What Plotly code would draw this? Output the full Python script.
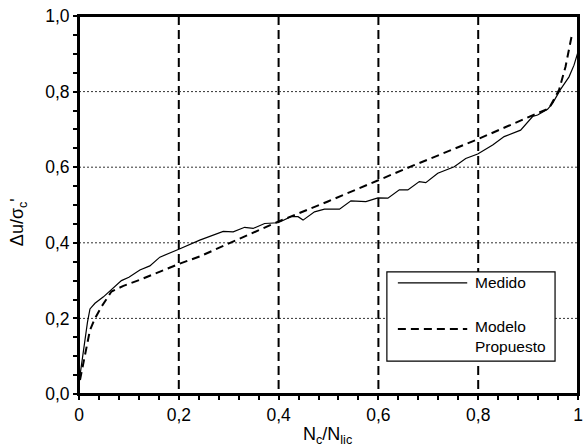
import plotly.graph_objects as go

# Measured curve (Medido)
med_x = [0.0, 0.004, 0.008, 0.012, 0.017, 0.022, 0.032, 0.049, 0.065, 0.085, 0.100, 0.122,
         0.142, 0.162, 0.200, 0.242, 0.289, 0.309, 0.332, 0.349, 0.372, 0.399, 0.425,
         0.439, 0.449, 0.472, 0.492, 0.522, 0.545, 0.575, 0.599, 0.619, 0.642, 0.659,
         0.682, 0.695, 0.719, 0.752, 0.775, 0.799, 0.829, 0.852, 0.885, 0.909, 0.919,
         0.939, 0.949, 0.965, 0.982, 0.992, 1.0]
med_y = [0.03, 0.07, 0.11, 0.15, 0.19, 0.225, 0.240, 0.257, 0.275, 0.300, 0.309, 0.328,
         0.339, 0.362, 0.383, 0.407, 0.430, 0.429, 0.441, 0.438, 0.451, 0.453, 0.469,
         0.469, 0.460, 0.482, 0.489, 0.489, 0.511, 0.509, 0.519, 0.518, 0.540, 0.540,
         0.562, 0.559, 0.584, 0.601, 0.623, 0.635, 0.659, 0.681, 0.698, 0.734, 0.738,
         0.753, 0.769, 0.806, 0.839, 0.870, 0.905]

# Proposed model (Modelo Propuesto)
mod_x = [0.002, 0.009, 0.022, 0.032, 0.045, 0.065, 0.089, 0.122, 0.162, 0.200, 0.242,
         0.322, 0.399, 0.500, 0.599, 0.669, 0.799, 0.905, 0.942, 0.962, 0.975, 0.987]
mod_y = [0.037, 0.081, 0.169, 0.200, 0.231, 0.271, 0.286, 0.302, 0.324, 0.344, 0.364,
         0.410, 0.456, 0.510, 0.566, 0.604, 0.674, 0.735, 0.756, 0.804, 0.866, 0.945]

x_ticks = [0, 0.2, 0.4, 0.6, 0.8, 1.0]
x_labels = ["0", "0,2", "0,4", "0,6", "0,8", "1"]
y_ticks = [0, 0.2, 0.4, 0.6, 0.8, 1.0]
y_labels = ["0,0", "0,2", "0,4", "0,6", "0,8", "1,0"]
grid_vals = [0.2, 0.4, 0.6, 0.8]

FONT = "Liberation Sans, Arial, sans-serif"

fig = go.Figure()
fig.add_trace(go.Scatter(x=med_x, y=med_y, mode="lines", name="Medido",
                         line=dict(color="black", width=1.2), showlegend=False))
fig.add_trace(go.Scatter(x=mod_x, y=mod_y, mode="lines", name="Modelo Propuesto",
                         line=dict(color="black", width=2, dash="8px,5px"), showlegend=False))

shapes = []
for v in grid_vals:
    shapes.append(dict(type="line", xref="x", yref="y", x0=v, x1=v, y0=1, y1=0,
                       line=dict(color="black", width=2, dash="9px,5px"), layer="below"))
    shapes.append(dict(type="line", xref="x", yref="y", x0=0, x1=1, y0=v, y1=v,
                       line=dict(color="#333333", width=1, dash="2px,2px"), layer="below"))

# plot frame
shapes.append(dict(type="rect", xref="paper", yref="paper", x0=0, x1=1, y0=0, y1=1,
                   line=dict(color="black", width=2), fillcolor="rgba(0,0,0,0)", layer="above"))

# legend box
shapes.append(dict(type="rect", xref="x", yref="y", x0=0.617, x1=0.954, y0=0.087, y1=0.323,
                   line=dict(color="black", width=1.2), fillcolor="white", layer="above"))
shapes.append(dict(type="line", xref="x", yref="y", x0=0.639, x1=0.778, y0=0.294, y1=0.294,
                   line=dict(color="black", width=1.2)))
shapes.append(dict(type="line", xref="x", yref="y", x0=0.639, x1=0.778, y0=0.172, y1=0.172,
                   line=dict(color="black", width=2, dash="8px,5px")))

annotations = [
    dict(x=0.790, y=0.294, xref="x", yref="y", text="Medido", showarrow=False,
         xanchor="left", yanchor="middle", font=dict(size=15.5, color="black", family=FONT)),
    dict(x=0.790, y=0.152, xref="x", yref="y", text="Modelo<br>Propuesto", showarrow=False,
         xanchor="left", yanchor="middle", align="left",
         font=dict(size=15.5, color="black", family=FONT)),
    dict(x=0.498, y=-0.11, xref="x", yref="paper", text="N<sub>c</sub>/N<sub>lic</sub>",
         showarrow=False, xanchor="center", yanchor="middle",
         font=dict(size=18, color="black", family=FONT)),
    dict(x=-0.122, y=0.455, xref="paper", yref="paper", text="Δu/σ<sub>c</sub>'",
         showarrow=False, textangle=-90, xanchor="center", yanchor="middle",
         font=dict(size=18, color="black", family=FONT)),
]

fig.update_layout(
    width=583, height=447,
    margin=dict(l=79, r=5, t=16, b=53),
    paper_bgcolor="white", plot_bgcolor="white",
    font=dict(family=FONT, size=17.5, color="black"),
    shapes=shapes, annotations=annotations,
    showlegend=False,
)
fig.update_xaxes(range=[0, 1], tickvals=x_ticks, ticktext=x_labels, automargin=False,
                 showgrid=False, zeroline=False, showline=True, linecolor="black",
                 linewidth=2, mirror=True, ticks="outside", ticklen=4, tickwidth=2,
                 tickcolor="black",
                 minor=dict(dtick=0.04, tick0=0, ticks="outside", ticklen=4, tickwidth=2,
                            tickcolor="black", showgrid=False))
fig.update_yaxes(range=[0, 1], tickvals=y_ticks, ticktext=y_labels, automargin=False,
                 showgrid=False, zeroline=False, showline=True, linecolor="black",
                 linewidth=2, mirror=True, ticks="outside", ticklen=4, tickwidth=2,
                 tickcolor="black",
                 minor=dict(dtick=0.05, tick0=0, ticks="outside", ticklen=4, tickwidth=2,
                            tickcolor="black", showgrid=False))

fig.write_html("out.html", config={"displayModeBar": False},
               post_script="document.body.style.margin='0px';document.body.style.overflow='hidden';")
